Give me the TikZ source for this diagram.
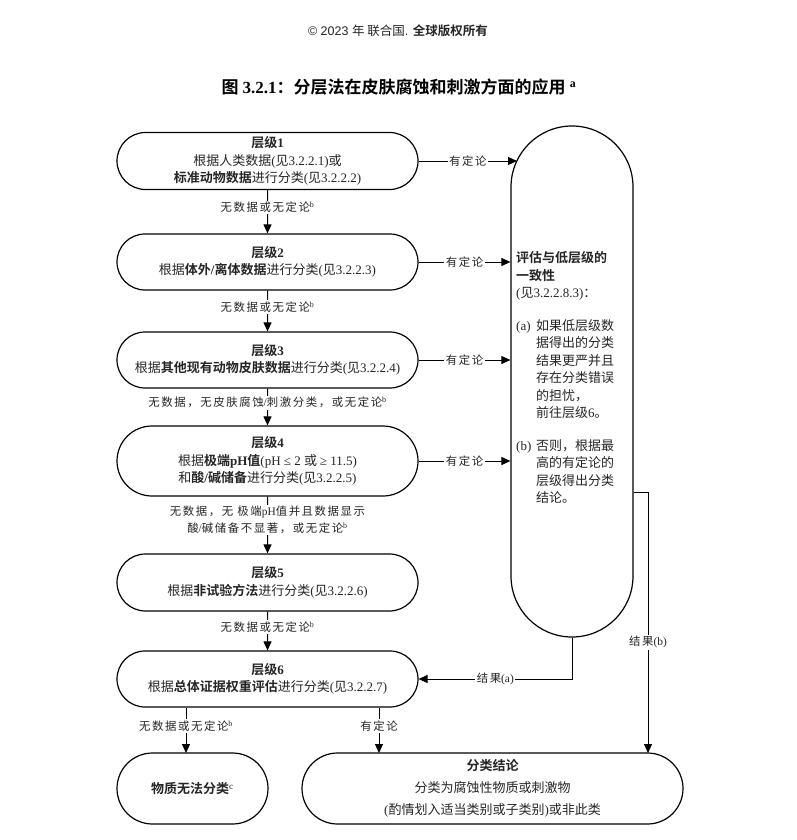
\documentclass[tikz,border=0pt]{standalone}
\usepackage{fontspec}
\setmainfont{Liberation Serif}
\setsansfont{Liberation Sans}
\newfontfamily\cjkR{Noto Sans CJK SC}[BoldFont={Noto Sans CJK SC Bold}]
\newfontfamily\lblcjk{Noto Sans CJK SC}[LetterSpace=14]
\usetikzlibrary{shapes.misc,arrows.meta}
% --- switch fonts between CJK and Latin automatically ---
\XeTeXinterchartokenstate=1
\newXeTeXintercharclass\CJKcls
\newcount\cjkcc
\cjkcc="2E80
\loop
  \XeTeXcharclass\cjkcc=\CJKcls
  \ifnum\cjkcc<"9FFF \advance\cjkcc by 1
\repeat
\cjkcc="FF00
\loop
  \XeTeXcharclass\cjkcc=\CJKcls
  \ifnum\cjkcc<"FFEF \advance\cjkcc by 1
\repeat
\def\cjksel{\cjkR}
\def\latsel{\rmfamily}
\XeTeXinterchartoks 0 \CJKcls = {\cjksel}
\XeTeXinterchartoks 4095 \CJKcls = {\cjksel}
\XeTeXinterchartoks \CJKcls 0 = {\latsel}
\XeTeXinterchartoks 4095 0 = {\latsel}
\tikzset{
  box/.style={draw, line width=1.2pt, rounded rectangle, inner sep=0pt, align=center,
    text=black!85, font=\fontsize{13}{17.5}\selectfont},
  lbl/.style={fill=white, inner sep=1.5pt, text=black!85, align=center,
    font={\def\cjksel{\lblcjk}\fontsize{11.4}{16.5}\selectfont}},
  arr/.style={line width=1pt, -{Triangle[length=9pt,width=8pt]}},
}
\begin{document}
\begin{tikzpicture}[x=1pt,y=-1pt]
\fill[white] (0,0) rectangle (796,840);
\useasboundingbox (0,0) rectangle (796,840);

\node[text=black!85, font={\def\latsel{\sffamily}\sffamily\fontsize{12.5}{15}\selectfont}] (hdr) at (398,31) {© 2023 年 联合国. \textbf{全球版权所有}};
\node[text=black, font=\fontsize{17}{20}\selectfont] (ttl) at (399,87) {\textbf{图 3.2.1：分层法在皮肤腐蚀和刺激方面的应用} \textsuperscript{\textbf{a}}};

% tiers
\node[box, minimum width=301pt, minimum height=57pt] (t1) at (267.5,161) {\textbf{层级1}\\根据人类数据(见3.2.2.1)或\\\textbf{标准动物数据}进行分类(见3.2.2.2)};
\node[box, minimum width=301pt, minimum height=56pt] (t2) at (267.5,262) {\textbf{层级2}\\根据\textbf{体外/离体数据}进行分类(见3.2.2.3)};
\node[box, minimum width=301pt, minimum height=56pt] (t3) at (267.5,360) {\textbf{层级3}\\根据\textbf{其他现有动物皮肤数据}进行分类(见3.2.2.4)};
\node[box, minimum width=301pt, minimum height=70pt] (t4) at (267.5,461) {\textbf{层级4}\\根据\textbf{极端pH值}(pH ≤ 2 或 ≥ 11.5)\\和\textbf{酸/碱储备}进行分类(见3.2.2.5)};
\node[box, minimum width=301pt, minimum height=57pt] (t5) at (267.5,582.5) {\textbf{层级5}\\根据\textbf{非试验方法}进行分类(见3.2.2.6)};
\node[box, minimum width=301pt, minimum height=56pt] (t6) at (267.5,679) {\textbf{层级6}\\根据\textbf{总体证据权重评估}进行分类(见3.2.2.7)};
\node[box, minimum width=151pt, minimum height=71pt] (nc) at (192.5,788.5) {\textbf{物质无法分类}\textsuperscript{c}};
\node[box, minimum width=381pt, minimum height=71pt, font=\fontsize{13}{22}\selectfont] (fc) at (492.5,788.5) {\textbf{分类结论}\\分类为腐蚀性物质或刺激物\\(酌情划入适当类别或子类别)或非此类};

% capsule
\node[draw, line width=1.2pt, rounded corners=61pt, minimum width=122pt, minimum height=511pt, inner sep=0pt] (cap) at (572,381.5) {};
\node[anchor=north west, align=left, inner sep=0pt, text=black!85, font=\fontsize{13}{17.5}\selectfont] (capt) at (516,251.5)
 {\textbf{评估与低层级的}\\\textbf{一致性}\\(见3.2.2.8.3)：\\[15pt]%
  \makebox[20pt][l]{(a)}如果低层级数\\\hspace*{20pt}据得出的分类\\\hspace*{20pt}结果更严并且\\\hspace*{20pt}存在分类错误\\\hspace*{20pt}的担忧，\\\hspace*{20pt}前往层级6。\\[15pt]%
  \makebox[20pt][l]{(b)}否则，根据最\\\hspace*{20pt}高的有定论的\\\hspace*{20pt}层级得出分类\\\hspace*{20pt}结论。};

% horizontal arrows to capsule
\coordinate (c1) at (517,161);
\draw[arr] (t1.east) -- node[lbl]{有定论} (c1);
\draw[arr] (t2.east) -- node[lbl]{有定论} (t2.east -| cap.west);
\draw[arr] (t3.east) -- node[lbl]{有定论} (t3.east -| cap.west);
\draw[arr] (t4.east) -- node[lbl]{有定论} (t4.east -| cap.west);

% vertical arrows
\draw[arr] (t1) -- node[lbl,pos=0.4]{无数据或无定论\textsuperscript{b}} (t2);
\draw[arr] (t2) -- node[lbl,pos=0.4]{无数据或无定论\textsuperscript{b}} (t3);
\draw[arr] (t3) -- node[lbl,pos=0.38]{无数据，无皮肤腐蚀/刺激分类，或无定论\textsuperscript{b}} (t4);
\draw[arr] (t4) -- node[lbl,pos=0.41]{无数据，无 极端pH值并且数据显示\\酸/碱储备不显著，或无定论\textsuperscript{b}} (t5);
\draw[arr] (t5) -- node[lbl,pos=0.4]{无数据或无定论\textsuperscript{b}} (t6);

% bottom
\coordinate (ncin) at (186,753);
\coordinate (fcin) at (379,753);
\draw[arr] (ncin |- t6.south) -- node[lbl,pos=0.4]{无数据或无定论\textsuperscript{b}} (ncin);
\draw[arr] (fcin |- t6.south) -- node[lbl,pos=0.4]{有定论} (fcin);

% results
\draw[arr] (cap.south) -- (cap.south |- t6.east) -- node[lbl]{结果(a)} (t6.east);
\coordinate (rb) at (648,492);
\coordinate (rbin) at (648,753);
\draw[arr] (rb -| cap.east) -- (rb) -- node[lbl,pos=0.575]{结果(b)} (rbin);
\end{tikzpicture}
\end{document}
